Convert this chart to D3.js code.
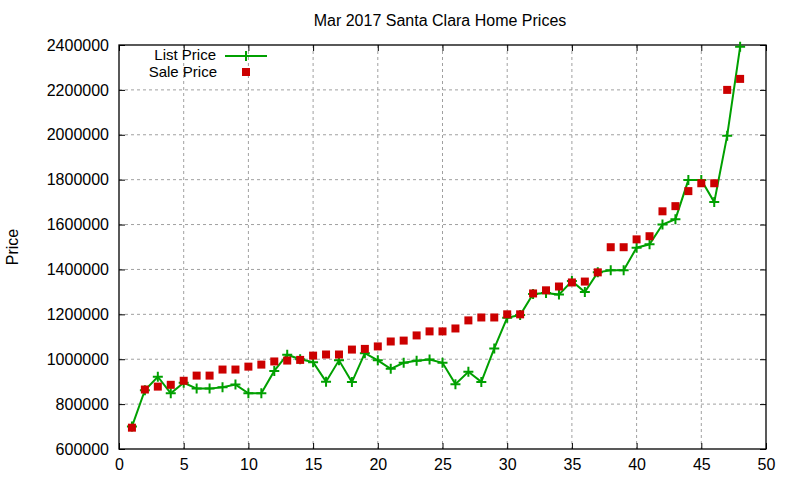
<!DOCTYPE html>
<html>
<head>
<meta charset="utf-8">
<script src="https://cdn.jsdelivr.net/npm/d3@7"></script>
<style>
  body { margin: 0; background: #fff; }
  text { font-family: "Liberation Sans", Arial, sans-serif; fill: #000; }
</style>
</head>
<body>
<div id="chart"></div>
<script>
// listing index (1..48)
const homes = d3.range(1, 49);

const listPrice = [
  700000, 862000, 922000, 848000, 895000, 869000, 869000, 875000, 887000, 848000,
  848000, 948000, 1020000, 1000000, 987000, 900000, 995000, 898000, 1027000, 995000,
  957000, 984000, 993000, 999000, 984000, 889000, 944000, 899000, 1048000, 1185000,
  1197000, 1291000, 1295000, 1288000, 1348000, 1299000, 1387000, 1396000, 1396000, 1497000,
  1512000, 1600000, 1624000, 1798000, 1798000, 1700000, 1996000, 2392000
];

const salePrice = [
  695000, 865000, 878000, 886000, 904000, 927000, 927000, 954000, 954000, 967000,
  976000, 990000, 994000, 997000, 1016000, 1021000, 1021000, 1043000, 1046000, 1057000,
  1079000, 1083000, 1106000, 1124000, 1124000, 1137000, 1173000, 1186000, 1186000, 1200000,
  1200000, 1293000, 1307000, 1324000, 1342000, 1346000, 1387000, 1499000, 1499000, 1534000,
  1548000, 1659000, 1682000, 1749000, 1784000, 1784000, 2200000, 2249000
];

const xTicks = d3.range(0, 51, 5);
const yTicks = d3.range(600000, 2400001, 200000);

const W = 800, H = 480;
const margin = {top: 45, right: 34, bottom: 31, left: 119};
const width = W - margin.left - margin.right;
const height = H - margin.top - margin.bottom;

const green = "#00a000";
const red = "#cc0000";

const svg = d3.select("#chart").append("svg")
    .attr("width", W)
    .attr("height", H);

const g = svg.append("g")
    .attr("transform", `translate(${margin.left},${margin.top})`);

const x = d3.scaleLinear().domain([0, 50]).range([0, width]);
const y = d3.scaleLinear().domain([600000, 2400000]).range([height, 0]);

// grid lines
g.append("g")
    .selectAll("line")
    .data(xTicks.slice(1, -1))
    .join("line")
    .attr("x1", d => x(d)).attr("x2", d => x(d))
    .attr("y1", 0).attr("y2", height)
    .attr("stroke", "#a0a0a0")
    .attr("stroke-dasharray", "3,3");

g.append("g")
    .selectAll("line")
    .data(yTicks.slice(1, -1))
    .join("line")
    .attr("y1", d => y(d)).attr("y2", d => y(d))
    .attr("x1", 0).attr("x2", width)
    .attr("stroke", "#a0a0a0")
    .attr("stroke-dasharray", "3,3");

// axes: ticks point inward, mirrored on top and right
const xAxis = g.append("g")
    .attr("transform", `translate(0,${height})`)
    .call(d3.axisBottom(x).tickValues(xTicks).tickSize(-6).tickPadding(10).tickFormat(d3.format("d")));
const xAxisTop = g.append("g")
    .call(d3.axisTop(x).tickValues(xTicks).tickSize(-6).tickFormat(""));
const yAxis = g.append("g")
    .call(d3.axisLeft(y).tickValues(yTicks).tickSize(-6).tickPadding(10).tickFormat(d3.format("d")));
const yAxisRight = g.append("g")
    .attr("transform", `translate(${width},0)`)
    .call(d3.axisRight(y).tickValues(yTicks).tickSize(-6).tickFormat(""));

[xAxis, xAxisTop, yAxis, yAxisRight].forEach(a => {
    a.select(".domain").remove();
    a.selectAll("line").attr("stroke", "#000");
    a.selectAll("text").style("font-size", "16px").attr("fill", "#000");
});

// frame
g.append("rect")
    .attr("width", width)
    .attr("height", height)
    .attr("fill", "none")
    .attr("stroke", "#000")
    .attr("stroke-width", 1.3);

// list price line
const line = d3.line()
    .x((d, i) => x(homes[i]))
    .y(d => y(d));

g.append("path")
    .datum(listPrice)
    .attr("d", line)
    .attr("fill", "none")
    .attr("stroke", green)
    .attr("stroke-width", 2);

function plusPath(s) {
    return `M${-s},0H${s}M0,${-s}V${s}`;
}

g.append("g")
    .selectAll("path")
    .data(listPrice)
    .join("path")
    .attr("d", plusPath(5))
    .attr("transform", (d, i) => `translate(${x(homes[i])},${y(d)})`)
    .attr("stroke", green)
    .attr("stroke-width", 2)
    .attr("fill", "none");

// sale price squares
const sq = 8;
g.append("g")
    .selectAll("rect")
    .data(salePrice)
    .join("rect")
    .attr("x", (d, i) => x(homes[i]) - sq / 2)
    .attr("y", d => y(d) - sq / 2)
    .attr("width", sq)
    .attr("height", sq)
    .attr("fill", red);

// legend
const legend = svg.append("g");
legend.append("text")
    .attr("x", 216).attr("y", 59.5)
    .attr("text-anchor", "end")
    .style("font-size", "15px")
    .text("List Price");
legend.append("line")
    .attr("x1", 225).attr("x2", 267)
    .attr("y1", 56).attr("y2", 56)
    .attr("stroke", green).attr("stroke-width", 2);
legend.append("path")
    .attr("d", plusPath(5))
    .attr("transform", "translate(246,56)")
    .attr("stroke", green).attr("stroke-width", 2);
legend.append("text")
    .attr("x", 217).attr("y", 77)
    .attr("text-anchor", "end")
    .style("font-size", "15px")
    .text("Sale Price");
legend.append("rect")
    .attr("x", 242).attr("y", 68)
    .attr("width", sq).attr("height", sq)
    .attr("fill", red);

// title and y label
svg.append("text")
    .attr("x", 440).attr("y", 26)
    .attr("text-anchor", "middle")
    .style("font-size", "16px")
    .text("Mar 2017 Santa Clara Home Prices");

svg.append("text")
    .attr("transform", "translate(18,247) rotate(-90)")
    .attr("text-anchor", "middle")
    .style("font-size", "16px")
    .text("Price");
</script>
</body>
</html>
